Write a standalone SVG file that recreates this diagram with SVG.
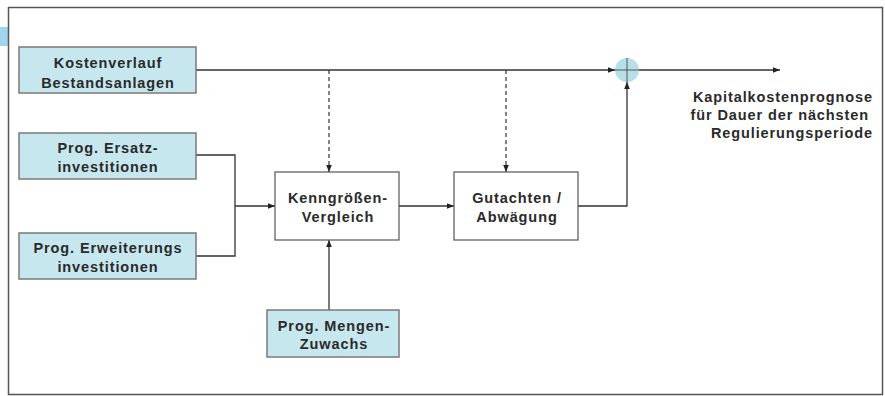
<svg xmlns="http://www.w3.org/2000/svg" width="885" height="396" viewBox="0 0 885 396">
<defs>
<style>
.in{fill:#c7e7ef;stroke:#7a7a7a;stroke-width:1.5}
.pr{fill:#fff;stroke:#555;stroke-width:1.2}
.t{font-family:"Liberation Sans",Arial,sans-serif;font-weight:bold;font-size:14.5px;letter-spacing:0.9px;fill:#2a2a2a;text-anchor:middle}
.c{fill:none;stroke:#333;stroke-width:1.3}
.d{fill:none;stroke:#333;stroke-width:1.2;stroke-dasharray:4 3}
</style>
<marker id="a" viewBox="0 0 10 10" refX="10" refY="5" markerWidth="8" markerHeight="7" markerUnits="userSpaceOnUse" orient="auto"><path d="M0,1 L10,5 L0,9 Z" fill="#222"/></marker>
</defs>
<rect x="0" y="0" width="885" height="396" fill="#fff"/>
<rect x="0" y="27" width="8" height="19" fill="#9fd6ee"/>
<rect x="8.5" y="7.5" width="874" height="387" fill="none" stroke="#555" stroke-width="1.5"/>
<g id="connectors">
<path class="c" d="M196,70 H615" marker-end="url(#a)"/>
<path class="c" d="M639,70 H780" marker-end="url(#a)"/>
<path class="c" d="M578,206 H627 V82" marker-end="url(#a)"/>
<path class="c" d="M196,155 H235 V256 H196"/>
<path class="c" d="M235,206 H275" marker-end="url(#a)"/>
<path class="d" d="M329,70 V172" marker-end="url(#a)"/>
<path class="d" d="M506,70 V172" marker-end="url(#a)"/>
<path class="c" d="M399,206 H454" marker-end="url(#a)"/>
<path class="c" d="M329,310 V240" marker-end="url(#a)"/>
</g>
<g id="sum">
<circle cx="627" cy="70" r="12" fill="#b6dfe9"/>
<path d="M627,58 V82 M615,70 H639" stroke="#555" stroke-width="1"/>
</g>
<g id="kostenverlauf">
<rect class="in" x="19" y="47" width="177" height="46"/>
<text class="t" x="108" y="68">Kostenverlauf</text>
<text class="t" x="108" y="88">Bestandsanlagen</text>
</g>
<g id="ersatz">
<rect class="in" x="19" y="133" width="177" height="46"/>
<text class="t" x="108" y="153">Prog. Ersatz-</text>
<text class="t" x="108" y="172">investitionen</text>
</g>
<g id="erweiterung">
<rect class="in" x="19" y="233" width="177" height="46"/>
<text class="t" x="108" y="253">Prog. Erweiterungs</text>
<text class="t" x="108" y="272">investitionen</text>
</g>
<g id="kenngroessen">
<rect class="pr" x="275" y="172" width="124" height="68"/>
<text class="t" x="338" y="203">Kenngrößen-</text>
<text class="t" x="338" y="222">Vergleich</text>
</g>
<g id="gutachten">
<rect class="pr" x="454" y="172" width="124" height="68"/>
<text class="t" x="517" y="203">Gutachten /</text>
<text class="t" x="517" y="222">Abwägung</text>
</g>
<g id="mengen">
<rect class="in" x="267" y="310" width="132" height="47"/>
<text class="t" x="334" y="331">Prog. Mengen-</text>
<text class="t" x="334" y="349">Zuwachs</text>
</g>
<g id="output">
<text class="t" x="873" y="102" style="text-anchor:end">Kapitalkostenprognose</text>
<text class="t" x="869" y="120" style="text-anchor:end">für Dauer der nächsten</text>
<text class="t" x="873" y="138" style="text-anchor:end">Regulierungsperiode</text>
</g>
</svg>
